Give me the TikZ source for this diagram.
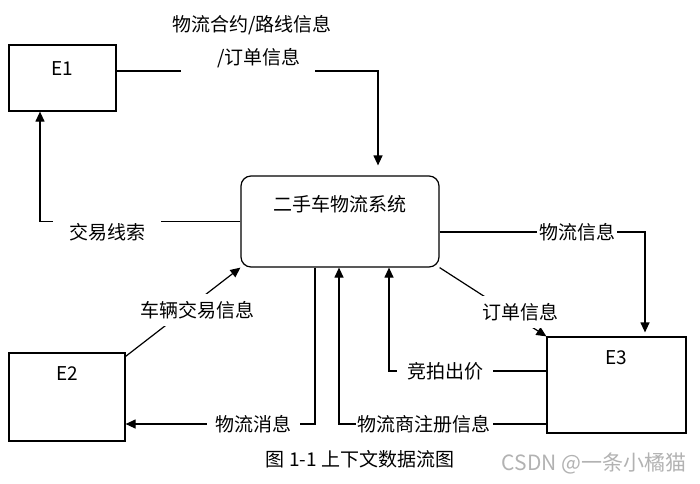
\documentclass[tikz,border=0pt]{standalone}
\usepackage{fontspec}
\setmainfont{Noto Sans CJK SC}
\usetikzlibrary{positioning}
\usetikzlibrary{arrows.meta}

\begin{document}
\begin{tikzpicture}
	[	x=0.5pt, y=-0.5pt,						% 1 单位 = 1 像素，y 向下
		line width=0.6pt,						% 线宽
		>={Triangle[length=5pt,width=4.5pt]},	% 实心箭头
		font=\fontsize{9.5}{12}\selectfont,		% 字号
		ent/.style={draw,rectangle},			% 外部实体/系统框
		lbl/.style={fill=white,inner xsep=3pt}	]	% 数据流标签（白底遮线）
	\useasboundingbox (0,0) rectangle (700,483);	% 画面大小
	% 方框
	\node[ent,minimum width=53.5pt,minimum height=33pt] (e1) at (62.5,78) {};
	\node[ent,minimum width=58pt,minimum height=44pt] (e2) at (67,397) {};
	\node[ent,minimum width=69.5pt,minimum height=48pt] (e3) at (616.5,385) {};
	\node[ent,rounded corners=5pt,minimum width=99pt,minimum height=45.5pt] (sys) at (340,221.5) {};
	\node[below=5pt of e1.north] (e1t) {E1};
	\node[below=3.3pt of e2.north] (e2t) {E2};
	\node[below=3.3pt of e3.north] (e3t) {E3};
	\node[below=6.6pt of sys.north] (syst) {二手车物流系统};
	% 数据流
	\coordinate (t1) at (181,71);
	\coordinate (t2) at (315,71);
	\draw (e1.east |- t1) -- (t1);
	\draw[->,shorten >=5pt] (t2) -| ([xshift=19pt]sys.north);
	\draw[->] (sys.west) -| ([xshift=-11.25pt]e1.south);
	\draw[->] ([yshift=-2pt]e2.north east) -- (sys.south west);
	\draw[->] ([xshift=-12.5pt]sys.south) |- ([yshift=-13.5pt]e2.east);
	\draw[->] ([yshift=-19.5pt]e3.west) -| ([xshift=-0.5pt]sys.south);
	\draw[->] ([yshift=7pt]e3.west) -| ([xshift=24.5pt]sys.south);
	\draw[->] (sys.south east) -- (e3.north west);
	\draw[->,shorten >=2pt] ([yshift=-5.25pt]sys.east) -| ([xshift=14.25pt]e3.north);
	% 标签
	\node[lbl] (hy) at (252,25) {物流合约/路线信息};
	\node[lbl] (dd1) at (259,58) {/订单信息};
	\node[lbl,inner xsep=8pt] (jy) at (107,232) {交易线索};
	\node[lbl] (cl) at (197,310) {车辆交易信息};
	\node[lbl,inner xsep=4.25pt] (wx) at (253,424) {物流消息};
	\node[lbl,inner xsep=1pt] (zc) at (424,424) {物流商注册信息};
	\node[lbl,inner xsep=5pt] (jp) at (445,371) {竞拍出价};
	\node[lbl] (dd2) at (520,312) {订单信息};
	\node[lbl,inner xsep=1pt] (wl) at (577,232) {物流信息};
	\node (cap) at (360,459) {图 1-1 上下文数据流图};
	\node[gray!60,font=\fontsize{10.5}{12}\selectfont] (wm) at (594,463) {CSDN @一条小橘猫};
\end{tikzpicture}
\end{document}
